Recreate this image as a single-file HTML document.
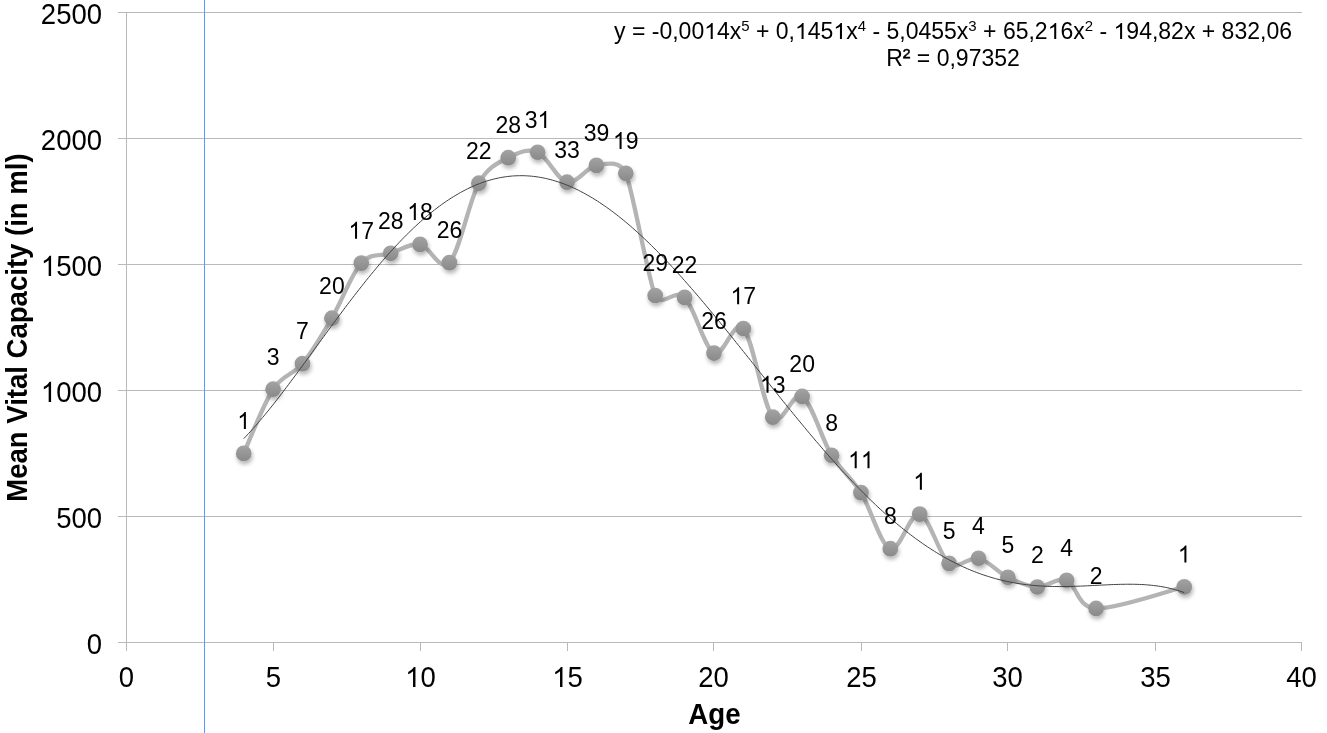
<!DOCTYPE html>
<html><head><meta charset="utf-8"><style>
html,body{margin:0;padding:0;background:#fff;width:1327px;height:733px;overflow:hidden}
svg{display:block;will-change:transform}
.g{stroke:#b9b9b9;stroke-width:1}
.t{font-family:"Liberation Sans",sans-serif;font-size:27.5px;fill:#000}
.ti{font-family:"Liberation Sans",sans-serif;font-size:27.7px;font-weight:bold;fill:#000}
#t17{font-size:27.55px}
.l{font-family:"Liberation Sans",sans-serif;font-size:23px;fill:#000}
.e{font-family:"Liberation Sans",sans-serif;font-size:23px;fill:#000}
.s{font-size:15px}
.h{fill-opacity:0}
.one{fill:#000}
</style></head><body>
<svg width="1327" height="733" viewBox="0 0 1327 733">
<defs>
<linearGradient id="mg" x1="0" y1="0" x2="0" y2="1"><stop offset="0" stop-color="#a3a3a3"/><stop offset="1" stop-color="#898989"/></linearGradient>
<filter id="sh" x="-50%" y="-50%" width="200%" height="200%"><feGaussianBlur in="SourceAlpha" stdDeviation="2.2"/><feOffset dx="1" dy="3" result="b"/><feComponentTransfer in="b" result="c"><feFuncA type="linear" slope="0.3"/></feComponentTransfer><feMerge><feMergeNode in="c"/><feMergeNode in="SourceGraphic"/></feMerge></filter>
</defs>
<line x1="118" y1="642.5" x2="1302" y2="642.5" class="g"/>
<line x1="118" y1="516.5" x2="1302" y2="516.5" class="g"/>
<line x1="118" y1="390.5" x2="1302" y2="390.5" class="g"/>
<line x1="118" y1="264.5" x2="1302" y2="264.5" class="g"/>
<line x1="118" y1="138.5" x2="1302" y2="138.5" class="g"/>
<line x1="118" y1="12.5" x2="1302" y2="12.5" class="g"/>
<line x1="126.5" y1="12" x2="126.5" y2="651" class="g"/>
<line x1="126.5" y1="642" x2="126.5" y2="651" class="g"/>
<line x1="273.5" y1="642" x2="273.5" y2="651" class="g"/>
<line x1="420.5" y1="642" x2="420.5" y2="651" class="g"/>
<line x1="567.5" y1="642" x2="567.5" y2="651" class="g"/>
<line x1="713.5" y1="642" x2="713.5" y2="651" class="g"/>
<line x1="861.5" y1="642" x2="861.5" y2="651" class="g"/>
<line x1="1007.5" y1="642" x2="1007.5" y2="651" class="g"/>
<line x1="1155.5" y1="642" x2="1155.5" y2="651" class="g"/>
<line x1="1301.5" y1="642" x2="1301.5" y2="651" class="g"/>
<line x1="204.5" y1="0" x2="204.5" y2="733" stroke="#5599ff" stroke-width="1"/>
<g transform="translate(102,653.9) scale(1,1.045)"><text id="t1" class="t" text-anchor="end">0</text></g>
<g transform="translate(102,527.9) scale(1,1.045)"><text id="t2" class="t" text-anchor="end">500</text></g>
<g transform="translate(102,401.9) scale(1,1.045)"><text id="t3" class="t" text-anchor="end"><tspan class="h">1</tspan>000</text><path class="one" transform="translate(-61.16,0.00) scale(0.013428,-0.013052)" d="M763,0 L583,0 L583,1147 Q518,1085 412,1023 Q306,961 222,930 L222,1104 Q373,1175 486,1276 Q599,1377 646,1472 L763,1472 Z"/></g>
<g transform="translate(102,275.9) scale(1,1.045)"><text id="t4" class="t" text-anchor="end"><tspan class="h">1</tspan>500</text><path class="one" transform="translate(-61.16,0.00) scale(0.013428,-0.013052)" d="M763,0 L583,0 L583,1147 Q518,1085 412,1023 Q306,961 222,930 L222,1104 Q373,1175 486,1276 Q599,1377 646,1472 L763,1472 Z"/></g>
<g transform="translate(102,149.9) scale(1,1.045)"><text id="t5" class="t" text-anchor="end">2000</text></g>
<g transform="translate(102,23.9) scale(1,1.045)"><text id="t6" class="t" text-anchor="end">2500</text></g>
<g transform="translate(126.5,687) scale(1,1.045)"><text id="t7" class="t" text-anchor="middle">0</text></g>
<g transform="translate(273.5,687) scale(1,1.045)"><text id="t8" class="t" text-anchor="middle">5</text></g>
<g transform="translate(420.5,687) scale(1,1.045)"><text id="t9" class="t" text-anchor="middle"><tspan class="h">1</tspan>0</text><path class="one" transform="translate(-15.29,0.00) scale(0.013428,-0.013052)" d="M763,0 L583,0 L583,1147 Q518,1085 412,1023 Q306,961 222,930 L222,1104 Q373,1175 486,1276 Q599,1377 646,1472 L763,1472 Z"/></g>
<g transform="translate(567.5,687) scale(1,1.045)"><text id="t10" class="t" text-anchor="middle"><tspan class="h">1</tspan>5</text><path class="one" transform="translate(-15.29,0.00) scale(0.013428,-0.013052)" d="M763,0 L583,0 L583,1147 Q518,1085 412,1023 Q306,961 222,930 L222,1104 Q373,1175 486,1276 Q599,1377 646,1472 L763,1472 Z"/></g>
<g transform="translate(713.5,687) scale(1,1.045)"><text id="t11" class="t" text-anchor="middle">20</text></g>
<g transform="translate(861.5,687) scale(1,1.045)"><text id="t12" class="t" text-anchor="middle">25</text></g>
<g transform="translate(1007.5,687) scale(1,1.045)"><text id="t13" class="t" text-anchor="middle">30</text></g>
<g transform="translate(1155.5,687) scale(1,1.045)"><text id="t14" class="t" text-anchor="middle">35</text></g>
<g transform="translate(1301.5,687) scale(1,1.045)"><text id="t15" class="t" text-anchor="middle">40</text></g>
<g transform="translate(714.5,724) scale(1,1.045)"><text id="t16" class="ti" text-anchor="middle">Age</text></g>
<g transform="translate(27.0,327.55) rotate(-90) scale(1,1.045)"><text id="t17" class="ti" text-anchor="middle">Mean Vital Capacity (in ml)</text></g>
<path d="M243.72,453.40 C248.61,442.70 263.31,404.16 273.11,389.20 C282.90,374.24 292.70,375.48 302.50,363.65 C312.30,351.82 322.09,334.96 331.89,318.20 C341.69,301.44 351.48,273.92 361.28,263.10 C371.08,252.28 380.88,256.42 390.67,253.30 C400.47,250.18 410.27,242.85 420.07,244.40 C429.86,245.95 439.66,272.80 449.46,262.60 C459.25,252.40 469.34,200.17 478.85,183.20 C488.36,166.23 498.44,162.86 508.24,157.70 C518.04,152.54 527.83,148.17 537.63,152.25 C547.43,156.33 557.23,180.01 567.02,182.20 C576.82,184.39 586.62,166.88 596.41,165.40 C606.21,163.92 619.54,159.43 625.81,173.30 C632.07,187.17 648.89,282.19 655.20,295.50 C661.50,308.81 674.79,287.81 684.59,297.40 C694.39,306.99 704.18,347.88 713.98,353.06 C723.78,358.24 733.57,317.82 743.37,328.50 C753.17,339.18 762.97,405.82 772.76,417.15 C782.56,428.47 792.36,390.10 802.15,396.45 C811.95,402.80 821.75,439.22 831.55,455.24 C841.34,471.26 851.14,477.02 860.94,492.60 C870.73,508.18 880.53,545.12 890.33,548.70 C900.13,552.28 909.92,511.66 919.72,514.10 C929.52,516.54 939.31,556.00 949.11,563.36 C958.91,570.72 968.71,555.91 978.50,558.23 C988.30,560.55 998.10,572.50 1007.89,577.29 C1017.69,582.08 1027.49,586.49 1037.29,586.98 C1047.08,587.48 1056.88,576.68 1066.68,580.26 C1076.48,583.84 1076.48,607.32 1096.07,608.43 C1115.66,609.54 1169.55,590.49 1184.24,586.90" fill="none" stroke="#b4b4b4" stroke-width="4.3" stroke-linejoin="round"/>
<circle cx="243.72" cy="453.40" r="7.85" fill="url(#mg)" filter="url(#sh)"/>
<circle cx="273.11" cy="389.20" r="7.85" fill="url(#mg)" filter="url(#sh)"/>
<circle cx="302.50" cy="363.65" r="7.85" fill="url(#mg)" filter="url(#sh)"/>
<circle cx="331.89" cy="318.20" r="7.85" fill="url(#mg)" filter="url(#sh)"/>
<circle cx="361.28" cy="263.10" r="7.85" fill="url(#mg)" filter="url(#sh)"/>
<circle cx="390.67" cy="253.30" r="7.85" fill="url(#mg)" filter="url(#sh)"/>
<circle cx="420.07" cy="244.40" r="7.85" fill="url(#mg)" filter="url(#sh)"/>
<circle cx="449.46" cy="262.60" r="7.85" fill="url(#mg)" filter="url(#sh)"/>
<circle cx="478.85" cy="183.20" r="7.85" fill="url(#mg)" filter="url(#sh)"/>
<circle cx="508.24" cy="157.70" r="7.85" fill="url(#mg)" filter="url(#sh)"/>
<circle cx="537.63" cy="152.25" r="7.85" fill="url(#mg)" filter="url(#sh)"/>
<circle cx="567.02" cy="182.20" r="7.85" fill="url(#mg)" filter="url(#sh)"/>
<circle cx="596.41" cy="165.40" r="7.85" fill="url(#mg)" filter="url(#sh)"/>
<circle cx="625.81" cy="173.30" r="7.85" fill="url(#mg)" filter="url(#sh)"/>
<circle cx="655.20" cy="295.50" r="7.85" fill="url(#mg)" filter="url(#sh)"/>
<circle cx="684.59" cy="297.40" r="7.85" fill="url(#mg)" filter="url(#sh)"/>
<circle cx="713.98" cy="353.06" r="7.85" fill="url(#mg)" filter="url(#sh)"/>
<circle cx="743.37" cy="328.50" r="7.85" fill="url(#mg)" filter="url(#sh)"/>
<circle cx="772.76" cy="417.15" r="7.85" fill="url(#mg)" filter="url(#sh)"/>
<circle cx="802.15" cy="396.45" r="7.85" fill="url(#mg)" filter="url(#sh)"/>
<circle cx="831.55" cy="455.24" r="7.85" fill="url(#mg)" filter="url(#sh)"/>
<circle cx="860.94" cy="492.60" r="7.85" fill="url(#mg)" filter="url(#sh)"/>
<circle cx="890.33" cy="548.70" r="7.85" fill="url(#mg)" filter="url(#sh)"/>
<circle cx="919.72" cy="514.10" r="7.85" fill="url(#mg)" filter="url(#sh)"/>
<circle cx="949.11" cy="563.36" r="7.85" fill="url(#mg)" filter="url(#sh)"/>
<circle cx="978.50" cy="558.23" r="7.85" fill="url(#mg)" filter="url(#sh)"/>
<circle cx="1007.89" cy="577.29" r="7.85" fill="url(#mg)" filter="url(#sh)"/>
<circle cx="1037.29" cy="586.98" r="7.85" fill="url(#mg)" filter="url(#sh)"/>
<circle cx="1066.68" cy="580.26" r="7.85" fill="url(#mg)" filter="url(#sh)"/>
<circle cx="1096.07" cy="608.43" r="7.85" fill="url(#mg)" filter="url(#sh)"/>
<circle cx="1184.24" cy="586.90" r="7.85" fill="url(#mg)" filter="url(#sh)"/>
<path d="M243.72,438.67 L246.07,436.21 L248.43,433.69 L250.79,431.12 L253.14,428.50 L255.50,425.83 L257.86,423.11 L260.22,420.36 L262.57,417.56 L264.93,414.72 L267.29,411.84 L269.65,408.92 L272.00,405.98 L274.36,403.00 L276.72,399.99 L279.07,396.96 L281.43,393.90 L283.79,390.81 L286.15,387.71 L288.50,384.58 L290.86,381.43 L293.22,378.27 L295.57,375.09 L297.93,371.90 L300.29,368.70 L302.65,365.49 L305.00,362.27 L307.36,359.04 L309.72,355.81 L312.08,352.58 L314.43,349.34 L316.79,346.10 L319.15,342.86 L321.50,339.63 L323.86,336.40 L326.22,333.17 L328.58,329.95 L330.93,326.74 L333.29,323.54 L335.65,320.35 L338.00,317.17 L340.36,314.00 L342.72,310.85 L345.08,307.71 L347.43,304.59 L349.79,301.49 L352.15,298.41 L354.51,295.35 L356.86,292.30 L359.22,289.29 L361.58,286.29 L363.93,283.32 L366.29,280.37 L368.65,277.45 L371.01,274.56 L373.36,271.70 L375.72,268.86 L378.08,266.06 L380.43,263.29 L382.79,260.55 L385.15,257.84 L387.51,255.16 L389.86,252.52 L392.22,249.92 L394.58,247.35 L396.93,244.82 L399.29,242.32 L401.65,239.87 L404.01,237.45 L406.36,235.07 L408.72,232.73 L411.08,230.43 L413.44,228.18 L415.79,225.96 L418.15,223.79 L420.51,221.66 L422.86,219.57 L425.22,217.53 L427.58,215.54 L429.94,213.58 L432.29,211.68 L434.65,209.82 L437.01,208.00 L439.36,206.23 L441.72,204.51 L444.08,202.84 L446.44,201.21 L448.79,199.63 L451.15,198.11 L453.51,196.63 L455.87,195.19 L458.22,193.81 L460.58,192.48 L462.94,191.20 L465.29,189.96 L467.65,188.78 L470.01,187.65 L472.37,186.57 L474.72,185.54 L477.08,184.56 L479.44,183.63 L481.79,182.75 L484.15,181.92 L486.51,181.15 L488.87,180.42 L491.22,179.75 L493.58,179.13 L495.94,178.56 L498.30,178.04 L500.65,177.57 L503.01,177.16 L505.37,176.80 L507.72,176.48 L510.08,176.22 L512.44,176.01 L514.80,175.85 L517.15,175.75 L519.51,175.69 L521.87,175.68 L524.22,175.73 L526.58,175.82 L528.94,175.97 L531.30,176.16 L533.65,176.41 L536.01,176.71 L538.37,177.05 L540.72,177.45 L543.08,177.89 L545.44,178.39 L547.80,178.93 L550.15,179.52 L552.51,180.16 L554.87,180.84 L557.23,181.58 L559.58,182.36 L561.94,183.19 L564.30,184.06 L566.65,184.99 L569.01,185.95 L571.37,186.97 L573.73,188.03 L576.08,189.13 L578.44,190.28 L580.80,191.47 L583.15,192.71 L585.51,193.99 L587.87,195.31 L590.23,196.68 L592.58,198.09 L594.94,199.54 L597.30,201.03 L599.66,202.56 L602.01,204.13 L604.37,205.74 L606.73,207.39 L609.08,209.08 L611.44,210.81 L613.80,212.58 L616.16,214.38 L618.51,216.23 L620.87,218.10 L623.23,220.02 L625.58,221.97 L627.94,223.95 L630.30,225.97 L632.66,228.02 L635.01,230.10 L637.37,232.22 L639.73,234.37 L642.09,236.55 L644.44,238.77 L646.80,241.01 L649.16,243.28 L651.51,245.58 L653.87,247.91 L656.23,250.27 L658.59,252.66 L660.94,255.07 L663.30,257.51 L665.66,259.97 L668.01,262.46 L670.37,264.98 L672.73,267.51 L675.09,270.08 L677.44,272.66 L679.80,275.26 L682.16,277.89 L684.51,280.54 L686.87,283.20 L689.23,285.89 L691.59,288.60 L693.94,291.32 L696.30,294.06 L698.66,296.82 L701.02,299.59 L703.37,302.38 L705.73,305.18 L708.09,308.00 L710.44,310.83 L712.80,313.68 L715.16,316.53 L717.52,319.40 L719.87,322.28 L722.23,325.17 L724.59,328.07 L726.94,330.97 L729.30,333.89 L731.66,336.81 L734.02,339.74 L736.37,342.68 L738.73,345.62 L741.09,348.57 L743.45,351.52 L745.80,354.47 L748.16,357.43 L750.52,360.39 L752.87,363.35 L755.23,366.31 L757.59,369.28 L759.95,372.24 L762.30,375.20 L764.66,378.16 L767.02,381.12 L769.37,384.08 L771.73,387.03 L774.09,389.98 L776.45,392.92 L778.80,395.86 L781.16,398.79 L783.52,401.72 L785.87,404.64 L788.23,407.55 L790.59,410.45 L792.95,413.34 L795.30,416.23 L797.66,419.10 L800.02,421.96 L802.38,424.81 L804.73,427.65 L807.09,430.48 L809.45,433.30 L811.80,436.10 L814.16,438.88 L816.52,441.65 L818.88,444.41 L821.23,447.15 L823.59,449.87 L825.95,452.58 L828.30,455.27 L830.66,457.94 L833.02,460.60 L835.38,463.23 L837.73,465.85 L840.09,468.44 L842.45,471.02 L844.81,473.57 L847.16,476.10 L849.52,478.61 L851.88,481.10 L854.23,483.57 L856.59,486.01 L858.95,488.43 L861.31,490.82 L863.66,493.19 L866.02,495.54 L868.38,497.86 L870.73,500.16 L873.09,502.42 L875.45,504.67 L877.81,506.88 L880.16,509.07 L882.52,511.23 L884.88,513.36 L887.24,515.47 L889.59,517.55 L891.95,519.59 L894.31,521.61 L896.66,523.60 L899.02,525.56 L901.38,527.49 L903.74,529.39 L906.09,531.26 L908.45,533.10 L910.81,534.91 L913.16,536.69 L915.52,538.43 L917.88,540.15 L920.24,541.83 L922.59,543.48 L924.95,545.10 L927.31,546.69 L929.66,548.25 L932.02,549.77 L934.38,551.26 L936.74,552.72 L939.09,554.14 L941.45,555.54 L943.81,556.90 L946.17,558.23 L948.52,559.52 L950.88,560.79 L953.24,562.02 L955.59,563.21 L957.95,564.38 L960.31,565.51 L962.67,566.61 L965.02,567.68 L967.38,568.71 L969.74,569.71 L972.09,570.69 L974.45,571.62 L976.81,572.53 L979.17,573.41 L981.52,574.25 L983.88,575.06 L986.24,575.84 L988.60,576.59 L990.95,577.31 L993.31,578.00 L995.67,578.66 L998.02,579.29 L1000.38,579.89 L1002.74,580.46 L1005.10,581.00 L1007.45,581.51 L1009.81,582.00 L1012.17,582.46 L1014.52,582.89 L1016.88,583.29 L1019.24,583.67 L1021.60,584.02 L1023.95,584.34 L1026.31,584.65 L1028.67,584.92 L1031.03,585.17 L1033.38,585.40 L1035.74,585.61 L1038.10,585.79 L1040.45,585.96 L1042.81,586.10 L1045.17,586.22 L1047.53,586.32 L1049.88,586.40 L1052.24,586.47 L1054.60,586.51 L1056.95,586.54 L1059.31,586.56 L1061.67,586.56 L1064.03,586.54 L1066.38,586.51 L1068.74,586.47 L1071.10,586.42 L1073.45,586.35 L1075.81,586.28 L1078.17,586.20 L1080.53,586.10 L1082.88,586.01 L1085.24,585.90 L1087.60,585.79 L1089.96,585.68 L1092.31,585.56 L1094.67,585.44 L1097.03,585.32 L1099.38,585.20 L1101.74,585.08 L1104.10,584.97 L1106.46,584.86 L1108.81,584.75 L1111.17,584.65 L1113.53,584.56 L1115.88,584.48 L1118.24,584.40 L1120.60,584.34 L1122.96,584.29 L1125.31,584.26 L1127.67,584.24 L1130.03,584.24 L1132.39,584.25 L1134.74,584.29 L1137.10,584.35 L1139.46,584.43 L1141.81,584.54 L1144.17,584.67 L1146.53,584.83 L1148.89,585.02 L1151.24,585.25 L1153.60,585.50 L1155.96,585.79 L1158.31,586.12 L1160.67,586.48 L1163.03,586.89 L1165.39,587.33 L1167.74,587.82 L1170.10,588.36 L1172.46,588.94 L1174.82,589.57 L1177.17,590.25 L1179.53,590.99 L1181.89,591.78 L1184.24,592.63" fill="none" stroke="#404040" stroke-width="1.0"/>
<g transform="translate(243.72,429.10) scale(1,1.06)"><text id="t18" class="l" text-anchor="middle"><tspan class="h">1</tspan></text><path class="one" transform="translate(-6.40,0.00) scale(0.011230,-0.010916)" d="M763,0 L583,0 L583,1147 Q518,1085 412,1023 Q306,961 222,930 L222,1104 Q373,1175 486,1276 Q599,1377 646,1472 L763,1472 Z"/></g>
<g transform="translate(273.11,364.90) scale(1,1.06)"><text id="t19" class="l" text-anchor="middle">3</text></g>
<g transform="translate(302.50,339.35) scale(1,1.06)"><text id="t20" class="l" text-anchor="middle">7</text></g>
<g transform="translate(331.89,293.90) scale(1,1.06)"><text id="t21" class="l" text-anchor="middle">20</text></g>
<g transform="translate(361.28,238.80) scale(1,1.06)"><text id="t22" class="l" text-anchor="middle"><tspan class="h">1</tspan>7</text><path class="one" transform="translate(-12.80,0.00) scale(0.011230,-0.010916)" d="M763,0 L583,0 L583,1147 Q518,1085 412,1023 Q306,961 222,930 L222,1104 Q373,1175 486,1276 Q599,1377 646,1472 L763,1472 Z"/></g>
<g transform="translate(390.67,229.00) scale(1,1.06)"><text id="t23" class="l" text-anchor="middle">28</text></g>
<g transform="translate(420.07,220.10) scale(1,1.06)"><text id="t24" class="l" text-anchor="middle"><tspan class="h">1</tspan>8</text><path class="one" transform="translate(-12.80,0.00) scale(0.011230,-0.010916)" d="M763,0 L583,0 L583,1147 Q518,1085 412,1023 Q306,961 222,930 L222,1104 Q373,1175 486,1276 Q599,1377 646,1472 L763,1472 Z"/></g>
<g transform="translate(449.46,238.30) scale(1,1.06)"><text id="t25" class="l" text-anchor="middle">26</text></g>
<g transform="translate(478.85,158.90) scale(1,1.06)"><text id="t26" class="l" text-anchor="middle">22</text></g>
<g transform="translate(508.24,133.40) scale(1,1.06)"><text id="t27" class="l" text-anchor="middle">28</text></g>
<g transform="translate(537.63,127.95) scale(1,1.06)"><text id="t28" class="l" text-anchor="middle">3<tspan class="h">1</tspan></text><path class="one" transform="translate(0.00,0.00) scale(0.011230,-0.010916)" d="M763,0 L583,0 L583,1147 Q518,1085 412,1023 Q306,961 222,930 L222,1104 Q373,1175 486,1276 Q599,1377 646,1472 L763,1472 Z"/></g>
<g transform="translate(567.02,157.90) scale(1,1.06)"><text id="t29" class="l" text-anchor="middle">33</text></g>
<g transform="translate(596.41,141.10) scale(1,1.06)"><text id="t30" class="l" text-anchor="middle">39</text></g>
<g transform="translate(625.81,149.00) scale(1,1.06)"><text id="t31" class="l" text-anchor="middle"><tspan class="h">1</tspan>9</text><path class="one" transform="translate(-12.80,0.00) scale(0.011230,-0.010916)" d="M763,0 L583,0 L583,1147 Q518,1085 412,1023 Q306,961 222,930 L222,1104 Q373,1175 486,1276 Q599,1377 646,1472 L763,1472 Z"/></g>
<g transform="translate(655.20,271.20) scale(1,1.06)"><text id="t32" class="l" text-anchor="middle">29</text></g>
<g transform="translate(684.59,273.10) scale(1,1.06)"><text id="t33" class="l" text-anchor="middle">22</text></g>
<g transform="translate(713.98,328.76) scale(1,1.06)"><text id="t34" class="l" text-anchor="middle">26</text></g>
<g transform="translate(743.37,304.20) scale(1,1.06)"><text id="t35" class="l" text-anchor="middle"><tspan class="h">1</tspan>7</text><path class="one" transform="translate(-12.80,0.00) scale(0.011230,-0.010916)" d="M763,0 L583,0 L583,1147 Q518,1085 412,1023 Q306,961 222,930 L222,1104 Q373,1175 486,1276 Q599,1377 646,1472 L763,1472 Z"/></g>
<g transform="translate(772.76,392.85) scale(1,1.06)"><text id="t36" class="l" text-anchor="middle"><tspan class="h">1</tspan>3</text><path class="one" transform="translate(-12.80,0.00) scale(0.011230,-0.010916)" d="M763,0 L583,0 L583,1147 Q518,1085 412,1023 Q306,961 222,930 L222,1104 Q373,1175 486,1276 Q599,1377 646,1472 L763,1472 Z"/></g>
<g transform="translate(802.15,372.15) scale(1,1.06)"><text id="t37" class="l" text-anchor="middle">20</text></g>
<g transform="translate(831.55,430.94) scale(1,1.06)"><text id="t38" class="l" text-anchor="middle">8</text></g>
<g transform="translate(860.94,468.30) scale(1,1.06)"><text id="t39" class="l" text-anchor="middle"><tspan class="h">1</tspan><tspan class="h">1</tspan></text><path class="one" transform="translate(-12.80,0.00) scale(0.011230,-0.010916)" d="M763,0 L583,0 L583,1147 Q518,1085 412,1023 Q306,961 222,930 L222,1104 Q373,1175 486,1276 Q599,1377 646,1472 L763,1472 Z"/><path class="one" transform="translate(0.00,0.00) scale(0.011230,-0.010916)" d="M763,0 L583,0 L583,1147 Q518,1085 412,1023 Q306,961 222,930 L222,1104 Q373,1175 486,1276 Q599,1377 646,1472 L763,1472 Z"/></g>
<g transform="translate(890.33,524.40) scale(1,1.06)"><text id="t40" class="l" text-anchor="middle">8</text></g>
<g transform="translate(919.72,489.80) scale(1,1.06)"><text id="t41" class="l" text-anchor="middle"><tspan class="h">1</tspan></text><path class="one" transform="translate(-6.40,0.00) scale(0.011230,-0.010916)" d="M763,0 L583,0 L583,1147 Q518,1085 412,1023 Q306,961 222,930 L222,1104 Q373,1175 486,1276 Q599,1377 646,1472 L763,1472 Z"/></g>
<g transform="translate(949.11,539.06) scale(1,1.06)"><text id="t42" class="l" text-anchor="middle">5</text></g>
<g transform="translate(978.50,533.93) scale(1,1.06)"><text id="t43" class="l" text-anchor="middle">4</text></g>
<g transform="translate(1007.89,552.99) scale(1,1.06)"><text id="t44" class="l" text-anchor="middle">5</text></g>
<g transform="translate(1037.29,562.68) scale(1,1.06)"><text id="t45" class="l" text-anchor="middle">2</text></g>
<g transform="translate(1066.68,555.96) scale(1,1.06)"><text id="t46" class="l" text-anchor="middle">4</text></g>
<g transform="translate(1096.07,584.13) scale(1,1.06)"><text id="t47" class="l" text-anchor="middle">2</text></g>
<g transform="translate(1184.24,562.60) scale(1,1.06)"><text id="t48" class="l" text-anchor="middle"><tspan class="h">1</tspan></text><path class="one" transform="translate(-6.40,0.00) scale(0.011230,-0.010916)" d="M763,0 L583,0 L583,1147 Q518,1085 412,1023 Q306,961 222,930 L222,1104 Q373,1175 486,1276 Q599,1377 646,1472 L763,1472 Z"/></g>
<g transform="translate(953,39)"><text id="t49" class="e" text-anchor="middle">y = -0,00<tspan class="h">1</tspan>4x<tspan class="s" dy="-8">5</tspan><tspan dy="8"> + 0,<tspan class="h">1</tspan>45<tspan class="h">1</tspan>x</tspan><tspan class="s" dy="-8">4</tspan><tspan dy="8"> - 5,0455x</tspan><tspan class="s" dy="-8">3</tspan><tspan dy="8"> + 65,2<tspan class="h">1</tspan>6x</tspan><tspan class="s" dy="-8">2</tspan><tspan dy="8"> - <tspan class="h">1</tspan>94,82x + 832,06</tspan></text><path class="one" transform="translate(-248.84,0.00) scale(0.011230,-0.010916)" d="M763,0 L583,0 L583,1147 Q518,1085 412,1023 Q306,961 222,930 L222,1104 Q373,1175 486,1276 Q599,1377 646,1472 L763,1472 Z"/><path class="one" transform="translate(-157.99,0.00) scale(0.011230,-0.010916)" d="M763,0 L583,0 L583,1147 Q518,1085 412,1023 Q306,961 222,930 L222,1104 Q373,1175 486,1276 Q599,1377 646,1472 L763,1472 Z"/><path class="one" transform="translate(-119.60,0.00) scale(0.011230,-0.010916)" d="M763,0 L583,0 L583,1147 Q518,1085 412,1023 Q306,961 222,930 L222,1104 Q373,1175 486,1276 Q599,1377 646,1472 L763,1472 Z"/><path class="one" transform="translate(94.66,0.00) scale(0.011230,-0.010916)" d="M763,0 L583,0 L583,1147 Q518,1085 412,1023 Q306,961 222,930 L222,1104 Q373,1175 486,1276 Q599,1377 646,1472 L763,1472 Z"/><path class="one" transform="translate(160.55,0.00) scale(0.011230,-0.010916)" d="M763,0 L583,0 L583,1147 Q518,1085 412,1023 Q306,961 222,930 L222,1104 Q373,1175 486,1276 Q599,1377 646,1472 L763,1472 Z"/></g>
<g transform="translate(953,66)"><text id="t50" class="e" text-anchor="middle">R<tspan dy="-2" style="stroke:#000;stroke-width:0.35px">²</tspan><tspan dy="2"> = 0,97352</tspan></text></g>
</svg>
</body></html>
